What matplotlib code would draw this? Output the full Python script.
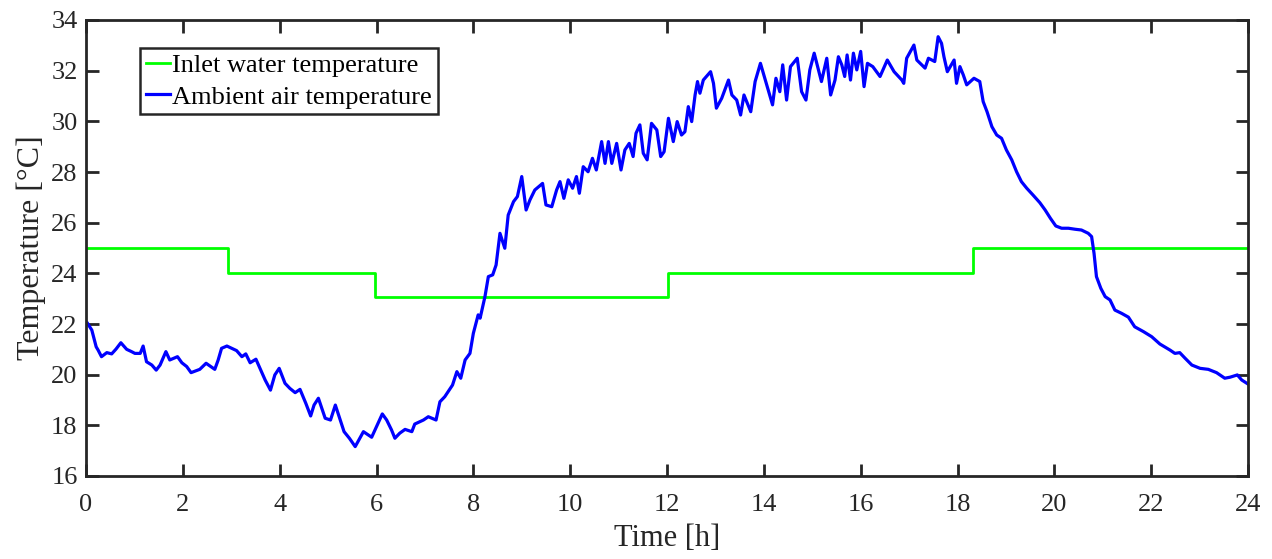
import matplotlib
matplotlib.use("Agg")
import matplotlib.pyplot as plt
import numpy as np

# Inlet water temperature (step profile): change times and levels
inlet_t = [0.0, 2.94, 2.94, 5.97, 5.97, 12.02, 12.02, 18.32, 18.32, 24.0]
inlet_T = [25.0, 25.0, 24.0, 24.0, 23.08, 23.08, 24.0, 24.0, 25.0, 25.0]

# Ambient air temperature
amb_t = [0.03, 0.12, 0.21, 0.25, 0.32, 0.43, 0.53, 0.62, 0.72, 0.84, 0.94, 1.01, 1.12, 1.18,
         1.25, 1.36, 1.45, 1.53, 1.65, 1.73, 1.89, 1.98, 2.08, 2.17, 2.35, 2.48, 2.66, 2.73,
         2.80, 2.91, 3.11, 3.22, 3.30, 3.39, 3.51, 3.70, 3.81, 3.90, 3.99, 4.11, 4.21, 4.32,
         4.42, 4.54, 4.64, 4.71, 4.80, 4.94, 5.05, 5.15, 5.25, 5.33, 5.44, 5.56, 5.73, 5.90,
         6.00, 6.12, 6.21, 6.31, 6.38, 6.48, 6.59, 6.73, 6.79, 6.97, 7.07, 7.23, 7.31, 7.41,
         7.48, 7.57, 7.66, 7.74, 7.83, 7.93, 8.00, 8.10, 8.14, 8.24, 8.31, 8.40, 8.47, 8.55,
         8.65, 8.72, 8.83, 8.91, 9.00, 9.09, 9.17, 9.27, 9.43, 9.50, 9.62, 9.72, 9.79, 9.87,
         9.96, 10.05, 10.13, 10.19, 10.27, 10.37, 10.46, 10.54, 10.65, 10.72, 10.79, 10.86,
         10.96, 11.05, 11.13, 11.22, 11.30, 11.36, 11.44, 11.51, 11.59, 11.68, 11.79, 11.87,
         11.94, 12.03, 12.13, 12.21, 12.30, 12.37, 12.44, 12.51, 12.58, 12.63, 12.68, 12.75,
         12.90, 12.96, 13.02, 13.13, 13.27, 13.34, 13.44, 13.52, 13.59, 13.73, 13.82, 13.93,
         14.02, 14.18, 14.25, 14.33, 14.39, 14.47, 14.55, 14.69, 14.78, 14.87, 14.95, 15.04,
         15.19, 15.30, 15.38, 15.47, 15.54, 15.61, 15.67, 15.72, 15.79, 15.85, 15.92, 16.00,
         16.07, 16.14, 16.25, 16.40, 16.55, 16.69, 16.85, 16.89, 16.95, 17.10, 17.16, 17.33,
         17.40, 17.53, 17.60, 17.67, 17.72, 17.79, 17.93, 17.98, 18.05, 18.12, 18.19, 18.34,
         18.46, 18.53, 18.61, 18.71, 18.81, 18.91, 19.01, 19.12, 19.22, 19.32, 19.43, 19.56,
         19.70, 19.81, 19.92, 20.03, 20.15, 20.29, 20.43, 20.56, 20.70, 20.77, 20.82, 20.87,
         20.96, 21.05, 21.15, 21.25, 21.39, 21.53, 21.66, 21.84, 22.01, 22.18, 22.39, 22.49,
         22.59, 22.70, 22.84, 23.01, 23.18, 23.35, 23.52, 23.63, 23.78, 23.87, 24.00]
amb_T = [22.03, 21.76, 21.10, 20.97, 20.71, 20.87, 20.82, 21.01, 21.26, 21.00, 20.91, 20.84, 20.84, 21.13,
         20.51, 20.38, 20.18, 20.38, 20.91, 20.58, 20.71, 20.47, 20.32, 20.08, 20.21, 20.45, 20.21, 20.58,
         21.04, 21.13, 20.95, 20.71, 20.82, 20.47, 20.61, 19.79, 19.39, 19.99, 20.25, 19.66, 19.46, 19.29,
         19.42, 18.87, 18.37, 18.80, 19.07, 18.28, 18.21, 18.80, 18.21, 17.75, 17.49, 17.16, 17.75, 17.53,
         17.95, 18.45, 18.21, 17.82, 17.49, 17.69, 17.84, 17.75, 18.05, 18.21, 18.34, 18.21, 18.93, 19.13,
         19.33, 19.59, 20.12, 19.86, 20.58, 20.84, 21.63, 22.36, 22.23, 23.08, 23.87, 23.94, 24.33, 25.58,
         24.99, 26.30, 26.83, 27.03, 27.82, 26.50, 26.90, 27.29, 27.55, 26.70, 26.63, 27.29, 27.62, 26.96,
         27.69, 27.36, 27.82, 27.16, 28.21, 28.01, 28.54, 28.08, 29.20, 28.34, 29.20, 28.34,
         29.13, 28.08, 28.87, 29.13, 28.61, 29.53, 29.86, 28.74, 28.48, 29.92, 29.66, 28.61,
         28.80, 30.12, 29.20, 29.99, 29.46, 29.59, 30.58, 29.99, 31.04, 31.57, 31.11, 31.63,
         31.96, 31.50, 30.52, 30.91, 31.63, 31.04, 30.84, 30.25, 31.04, 30.38, 31.57, 32.29,
         31.70, 30.65, 31.70, 31.17, 32.23, 30.84, 32.16, 32.49, 31.17, 30.84, 32.03, 32.69,
         31.57, 32.49, 31.04, 31.63, 32.55, 32.23, 31.77, 32.62, 31.63, 32.69, 32.03, 32.76,
         31.37, 32.29, 32.16, 31.77, 32.42, 31.96, 31.63, 31.50, 32.49, 33.01, 32.42, 32.10,
         32.49, 32.36, 33.34, 33.08, 32.55, 31.96, 32.42, 31.50, 32.16, 31.83, 31.44, 31.70,
         31.57, 30.78, 30.38, 29.79, 29.46, 29.33, 28.87, 28.48, 28.01, 27.62, 27.36, 27.09,
         26.79, 26.50, 26.17, 25.87, 25.78, 25.78, 25.74, 25.71, 25.58, 25.45, 24.79, 23.87,
         23.41, 23.08, 22.95, 22.55, 22.42, 22.27, 21.89, 21.70, 21.50, 21.21, 20.97, 20.84,
         20.87, 20.65, 20.38, 20.25, 20.21, 20.08, 19.86, 19.90, 19.99, 19.79, 19.63]

xticks = list(range(0, 25, 2))
yticks = list(range(16, 35, 2))

plt.rcParams['font.family'] = ['Liberation Serif', 'DejaVu Serif']

fig = plt.figure(figsize=(12.72, 5.59), dpi=100)
ax = fig.add_axes([86/1272, 1 - 476/559, (1248-86)/1272, (476-20)/559])

ax.plot(inlet_t, inlet_T, color='#00ff00', lw=2.0, label='Inlet water temperature')
ax.plot(amb_t, amb_T, color='#0000ff', lw=2.3, label='Ambient air temperature')

ax.set_xlim(0, 24)
ax.set_ylim(16, 34)
ax.set_xticks(xticks)
ax.set_yticks(yticks)

dark = '#262626'
for s in ax.spines.values():
    s.set_linewidth(2.0)
    s.set_color(dark)
ax.tick_params(direction='in', length=9, width=2.0, color=dark, labelcolor=dark,
               labelsize=19, top=True, right=True)
ax.tick_params(axis='x', pad=13)
ax.tick_params(axis='y', pad=6)

ax.set_xlabel('Time [h]', fontsize=22, color=dark, labelpad=6)
ax.set_ylabel('Temperature [°C]', fontsize=23, color=dark, labelpad=4)

leg = ax.legend(loc='upper left', bbox_to_anchor=(54/1162, 1 - 28/456), borderaxespad=0,
                fontsize=19, handlelength=0.9, handletextpad=0.1, labelspacing=0.3,
                borderpad=0.22, fancybox=False, framealpha=1, edgecolor=dark)
leg.get_frame().set_linewidth(1.8)

fig.savefig('out.png', dpi=100)
